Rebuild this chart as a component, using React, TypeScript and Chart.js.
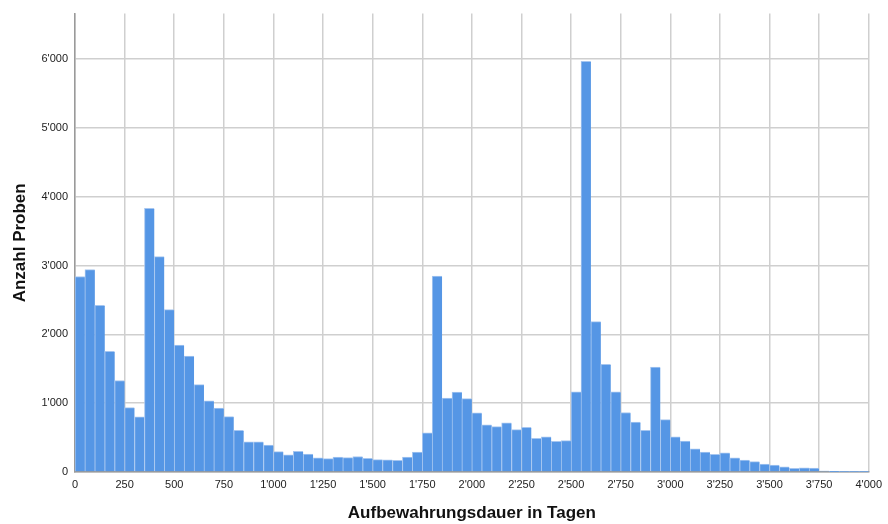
import React, { useEffect, useRef } from "react";
import { Chart, registerables } from "chart.js";

Chart.register(...registerables);

const binWidth = 50;
const binStarts = Array.from({ length: 80 }, (_, i) => i * binWidth);
const counts = [
  2840, 2940, 2420, 1755, 1330, 935, 800, 3830, 3130, 2360,
  1845, 1685, 1270, 1035, 930, 805, 605, 440, 440, 390,
  295, 250, 300, 260, 205, 195, 215, 210, 225, 200,
  180, 175, 170, 215, 290, 570, 2845, 1075, 1160, 1065,
  860, 685, 660, 715, 615, 650, 490, 510, 445, 455,
  1165, 5965, 2185, 1565, 1165, 865, 725, 605, 1525, 760,
  510, 450, 335, 288, 258, 278, 205, 172, 150, 115,
  100, 76, 52, 62, 58, 14, 5, 4, 3, 3,
];
const xTickStep = 250;
const yTickValues = [0, 1000, 2000, 3000, 4000, 5000, 6000];
const xTitle = "Aufbewahrungsdauer in Tagen";
const yTitle = "Anzahl Proben";

function fmt(v: number): string {
  const n = Math.round(v);
  if (n >= 1000) {
    return `${Math.floor(n / 1000)}'${String(n % 1000).padStart(3, "0")}`;
  }
  return String(n);
}

const FONT = "'Liberation Sans', Arial, sans-serif";

export default function App() {
  const ref = useRef<HTMLCanvasElement | null>(null);
  useEffect(() => {
    document.body.style.margin = "0";
    const ctx = ref.current!.getContext("2d")!;
    const chart = new Chart(ctx, {
      type: "bar",
      data: {
        datasets: [
          {
            data: binStarts.map((s, i) => ({ x: s + binWidth / 2, y: counts[i] })),
            backgroundColor: "#5596e5",
            borderColor: "#a6c6f0",
            borderWidth: { top: 1, left: 1, right: 0, bottom: 0 },
            borderSkipped: false,
            barPercentage: 1,
            categoryPercentage: 1,
          },
        ],
      },
      options: {
        responsive: false,
        animation: false,
        layout: { padding: { top: 9, right: 18, left: 0, bottom: 0 } },
        plugins: { legend: { display: false }, tooltip: { enabled: false } },
        scales: {
          x: {
            type: "linear",
            min: 0,
            max: 4000,
            offset: false,
            afterFit: (s: any) => { s.height = 52; },
            ticks: {
              stepSize: xTickStep,
              autoSkip: false,
              maxRotation: 0,
              padding: 6,
              color: "#222",
              font: { family: FONT, size: 11 },
              callback: (v: any) => fmt(Number(v)),
            },
            grid: { color: "#cfcfcf", lineWidth: 1.5, drawTicks: false, offset: false },
            border: { display: true, color: "#9a9a9a", width: 1.5 },
            title: {
              display: true,
              text: xTitle,
              color: "#111",
              font: { family: FONT, size: 17, weight: "bold" },
              padding: { top: 0, bottom: 0 },
            },
          },
          y: {
            min: 0,
            max: 6660,
            afterFit: (s: any) => { s.width = 75; },
            afterBuildTicks: (s: any) => { s.ticks = yTickValues.map((value) => ({ value })); },
            ticks: {
              padding: 7,
              color: "#222",
              font: { family: FONT, size: 11 },
              callback: (v: any) => fmt(Number(v)),
            },
            grid: { color: "#cfcfcf", lineWidth: 1.5, drawTicks: false },
            border: { display: true, color: "#9a9a9a", width: 1.5 },
            title: {
              display: true,
              text: yTitle,
              color: "#111",
              font: { family: FONT, size: 17, weight: "bold" },
              padding: { top: 10, bottom: 0 },
            },
          },
        },
      },
    } as any);
    return () => chart.destroy();
  }, []);
  return (
    <div style={{ position: "absolute", left: 0, top: 0, width: 888, height: 524 }}>
      <canvas ref={ref} width={888} height={524} style={{ display: "block" }} />
    </div>
  );
}
